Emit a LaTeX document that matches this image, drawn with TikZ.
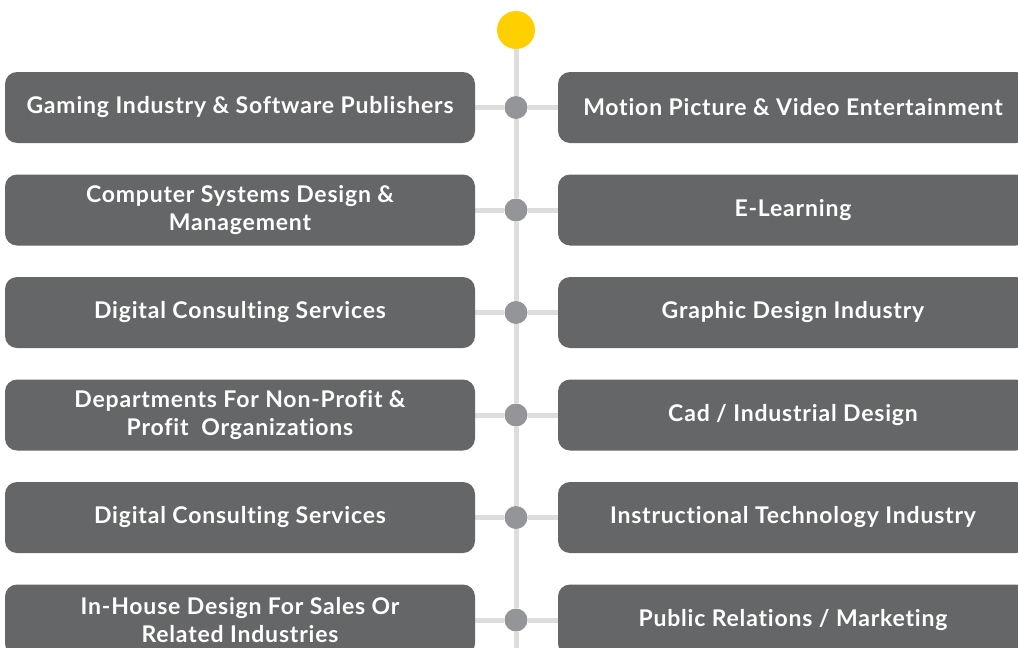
\documentclass[tikz,border=0pt]{standalone}
\usepackage{fontspec}
\setmainfont{Lato}[Ligatures={NoCommon}, LetterSpace=3.5]
\usetikzlibrary{backgrounds}
\definecolor{boxgray}{HTML}{656668}
\definecolor{dotgray}{HTML}{939598}
\definecolor{linegray}{HTML}{DDDDDD}
\definecolor{topyellow}{HTML}{FFD000}
\tikzset{
  card/.style={fill=boxgray, rounded corners=12pt, minimum width=470pt, minimum height=71pt,
    inner sep=0pt, text=white, align=center, font=\fontsize{23}{28.5}\selectfont\bfseries},
  hub/.style={circle, fill=dotgray, minimum size=23pt, inner sep=0pt},
  topdot/.style={circle, fill=topyellow, minimum size=38pt, inner sep=0pt},
  link/.style={draw=linegray, line width=5pt}
}
\begin{document}
\begin{tikzpicture}[x=1pt,y=-1pt]
\useasboundingbox (0,0) rectangle (1018,648);
\clip (0,0) rectangle (1018,648);
\node[topdot] (top) at (516,30) {};
\node[card] (L1) at (240,107.5) {Gaming Industry \& Software Publishers};
\node[card] (L2) at (240,210) {Computer Systems Design \&\\Management};
\node[card] (L3) at (240,312.5) {Digital Consulting Services};
\node[card] (L4) at (240,415) {Departments For Non-Profit \&\\Profit\ \ Organizations};
\node[card] (L5) at (240,517.5) {Digital Consulting Services};
\node[card] (L6) at (240,620) {In-House Design For Sales Or\\Related Industries};
\node[card] (R1) at (793,107.5) {Motion Picture \& Video Entertainment};
\node[card] (R2) at (793,210) {E-Learning};
\node[card] (R3) at (793,312.5) {Graphic Design Industry};
\node[card] (R4) at (793,415) {Cad / Industrial Design};
\node[card] (R5) at (793,517.5) {Instructional Technology Industry};
\node[card] (R6) at (793,620) {Public Relations / Marketing};
\foreach \i/\y in {1/107.5,2/210,3/312.5,4/415,5/517.5,6/620}{
  \node[hub] (d\i) at (516,\y) {};
}
\coordinate (bottom) at (516,660);
\begin{pgfonlayer}{background}
\draw[link] (top) -- (d1) -- (d2) -- (d3) -- (d4) -- (d5) -- (d6) -- (bottom);
\foreach \i in {1,...,6}{
  \draw[link] (L\i.east) -- (d\i) -- (R\i.west);
}
\end{pgfonlayer}
\end{tikzpicture}
\end{document}
